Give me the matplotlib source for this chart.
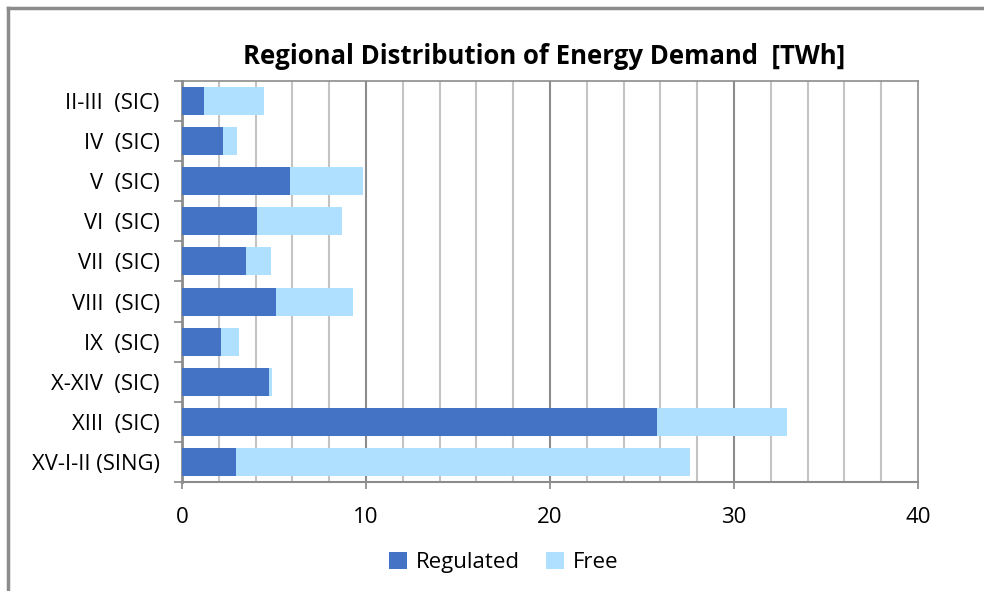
import numpy as np
import matplotlib.pyplot as plt
from matplotlib.ticker import MultipleLocator, FixedLocator

# TWh per region, regulated vs free customers
regions = ["II-III  (SIC)", "IV  (SIC)", "V  (SIC)", "VI  (SIC)", "VII  (SIC)",
           "VIII  (SIC)", "IX  (SIC)", "X-XIV  (SIC)", "XIII  (SIC)", "XV-I-II (SING)"]
regulated = [1.2, 2.2, 5.85, 4.1, 3.5, 5.1, 2.1, 4.7, 25.8, 2.95]
free = [3.25, 0.8, 4.0, 4.6, 1.35, 4.2, 1.0, 0.2, 7.1, 24.65]

plt.rcParams['font.family'] = ['Open Sans', 'DejaVu Sans']

fig = plt.figure(figsize=(9.84, 5.91), dpi=100)
ax = fig.add_axes([0.185, 0.1844, 0.748, 0.6786])

y = np.arange(len(regions))
ax.barh(y, regulated, height=0.7, color="#4472C4", label="Regulated", zorder=3)
ax.barh(y, free, left=regulated, height=0.7, color="#B0E0FF", label="Free", zorder=3)

ax.set_xlim(0, 40)
ax.set_ylim(len(regions) - 0.5, -0.5)

# gridlines every 2 TWh, darker at the labelled ones
for v in np.arange(2, 40, 2):
    c = "#8c8c8c" if v % 10 == 0 else "#c4c4c4"
    ax.axvline(v, color=c, lw=1.5, zorder=1)

ax.xaxis.set_major_locator(MultipleLocator(10))
ax.tick_params(axis="x", length=5, width=1.2, color="#888888", labelsize=16, pad=13)

ax.set_yticks(y)
ax.set_yticklabels(regions, fontsize=15.8)
ax.yaxis.set_minor_locator(FixedLocator(np.arange(-0.5, len(regions), 1)))
ax.tick_params(axis="y", which="major", length=0, pad=16)
ax.tick_params(axis="y", which="minor", length=6, width=1.2, color="#888888")

for s in ax.spines.values():
    s.set_color("#8c8c8c")
    s.set_linewidth(1.2)
ax.spines["left"].set_linewidth(2)
ax.spines["bottom"].set_linewidth(1.5)

fig.text(0.553, 0.905, "Regional Distribution of Energy Demand  [TWh]",
         ha="center", va="center", fontsize=18.5, fontweight="bold")

fig.legend(loc="center", bbox_to_anchor=(0.512, 0.048), ncol=2, frameon=False,
           fontsize=16, handlelength=0.8, handleheight=0.8, handletextpad=0.4,
           columnspacing=1.2)

# outer chart frame (only top and left edges are visible)
fig.add_artist(plt.Line2D([0.008, 1.0], [0.986, 0.986], color="#8c8c8c", lw=2.5,
                          transform=fig.transFigure))
fig.add_artist(plt.Line2D([0.008, 0.008], [0.0, 0.986], color="#8c8c8c", lw=2.5,
                          transform=fig.transFigure))

fig.savefig("out.png", dpi=100)
